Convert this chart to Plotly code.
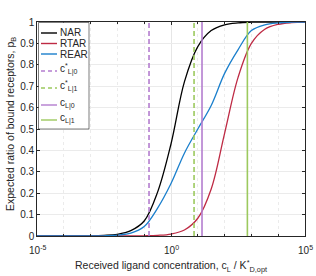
import math
import plotly.graph_objects as go

# log10 of received ligand concentration sample points
log_c = [-5, -4, -3, -2.5, -2, -1.5, -1, -0.5, 0, 0.5, 1, 1.5, 2, 2.5, 3, 3.5, 4, 4.5, 5]
nar = [0.0, 0.0001, 0.001, 0.003, 0.008, 0.025, 0.07, 0.205, 0.43, 0.72, 0.885, 0.96, 0.987, 0.996, 0.999, 1.0, 1.0, 1.0, 1.0]
rtar = [0.0, 0.0, 0.0, 0.0, 0.0001, 0.0003, 0.001, 0.003, 0.009, 0.028, 0.083, 0.22, 0.48, 0.74, 0.9, 0.966, 0.989, 0.997, 0.999]
rear = [0.0, 0.0, 0.0003, 0.001, 0.004, 0.013, 0.044, 0.13, 0.245, 0.387, 0.5, 0.61, 0.76, 0.87, 0.96, 0.987, 0.996, 0.999, 1.0]

curve_names = ["NAR", "RTAR", "REAR"]
curve_colors = ["#000000", "#BE2A44", "#1A7FCC"]

# threshold concentrations (log10)
vlines_log = [-0.82, 0.86, 1.157, 2.85]
vline_names = ["c<sup>*</sup><sub>L|0</sub>", "c<sup>*</sup><sub>L|1</sub>", "c<sub>L|0</sub>", "c<sub>L|1</sub>"]
vline_colors = ["#B47DCF", "#9CC95E", "#B47DCF", "#9CC95E"]
vline_dash = ["dash", "dash", "solid", "solid"]

x_ticks = [1e-5, 1, 1e5]
x_ticktext = ["10<sup>-5</sup>", "10<sup>0</sup>", "10<sup>5</sup>"]
y_ticks = [0, 0.1, 0.2, 0.3, 0.4, 0.5, 0.6, 0.7, 0.8, 0.9, 1]
y_ticktext = ["0", "0.1", "0.2", "0.3", "0.4", "0.5", "0.6", "0.7", "0.8", "0.9", "1"]

x_title = "Received ligand concentration, c<sub>L</sub> / K<sup>*</sup><sub>D,opt</sub>"
y_title = "Expected ratio of bound receptors, p<sub>B</sub>"

W, H = 316, 276
L, R, T, B = 37, 11, 22, 40
PW, PH = W - L - R, H - T - B


def px(xp):
    return (xp - L) / PW


def py(yp):
    return 1 - (yp - T) / PH


xs = [10 ** v for v in log_c]

fig = go.Figure()
for name, ys, col in zip(curve_names, [nar, rtar, rear], curve_colors):
    fig.add_trace(go.Scatter(x=xs, y=ys, mode="lines", name=name, showlegend=False,
                             line=dict(color=col, width=1.3, shape="spline", smoothing=1.0)))

for lv, nm, col, d in zip(vlines_log, vline_names, vline_colors, vline_dash):
    fig.add_trace(go.Scatter(x=[10 ** lv, 10 ** lv], y=[0, 1], mode="lines", name=nm, showlegend=False,
                             line=dict(color=col, width=1.6, dash="5px,3px" if d == "dash" else "solid")))

# manual legend (MATLAB style)
shapes = [dict(type="rect", xref="paper", yref="paper", x0=px(38.5), x1=px(89), y0=py(129), y1=py(22.5),
               line=dict(color="#262626", width=0.6), fillcolor="white", layer="above")]
annotations = []
entry_y = [33, 43.5, 54, 71, 88, 105, 120]
text_y = [33, 43.5, 54, 69, 86, 103, 118]
leg_names = curve_names + vline_names
leg_colors = curve_colors + vline_colors
leg_dash = ["solid"] * 3 + ["4px,3px" if d == "dash" else "solid" for d in vline_dash]
for ly, ty, nm, col, d in zip(entry_y, text_y, leg_names, leg_colors, leg_dash):
    shapes.append(dict(type="line", xref="paper", yref="paper", x0=px(41), x1=px(57), y0=py(ly), y1=py(ly),
                       line=dict(color=col, width=1.4, dash=d), layer="above"))
    annotations.append(dict(xref="paper", yref="paper", x=px(58), y=py(ty), xanchor="left", yanchor="middle",
                            text=nm, showarrow=False, font=dict(size=10, color="#262626")))

# x tick labels (annotations so the last one is not clipped)
for tv, tt in zip(x_ticks, x_ticktext):
    annotations.append(dict(xref="x", yref="paper", x=math.log10(tv), y=py(242),
                            xanchor="center", yanchor="top", text=tt, showarrow=False,
                            font=dict(size=10, color="#262626")))

annotations.append(dict(xref="paper", yref="paper", x=px(171), y=py(256), xanchor="center", yanchor="top",
                        text=x_title, showarrow=False, font=dict(size=10.5, color="#262626")))
annotations.append(dict(xref="paper", yref="paper", x=px(11), y=py(124), xanchor="center", yanchor="middle",
                        text=y_title, textangle=-90, showarrow=False, font=dict(size=10.5, color="#262626")))

decades = [10.0 ** k for k in range(-5, 6)]

fig.update_layout(
    width=W, height=H,
    margin=dict(l=L, r=R, t=T, b=B),
    paper_bgcolor="white", plot_bgcolor="white",
    font=dict(family="Liberation Sans, Arial, sans-serif", size=10, color="#262626"),
    showlegend=False,
    hovermode=False,
    shapes=shapes,
    annotations=annotations,
    xaxis=dict(type="log", range=[-5, 5], tickvals=x_ticks, showticklabels=False, automargin=False,
               showgrid=True, gridcolor="#E6E6E6", gridwidth=0.6,
               minor=dict(tickvals=decades, showgrid=True, gridcolor="#EBEBEB", griddash="dot",
                          ticks="inside", ticklen=2, tickcolor="#262626"),
               ticks="inside", ticklen=3, tickcolor="#262626",
               showline=True, linecolor="#262626", linewidth=0.6, mirror="ticks",
               zeroline=False),
    yaxis=dict(range=[0, 1], tickvals=y_ticks, ticktext=y_ticktext, automargin=False,
               showgrid=True, gridcolor="#EBEBEB", gridwidth=0.6,
               ticks="inside", ticklen=3, tickcolor="#262626",
               showline=True, linecolor="#262626", linewidth=0.6, mirror="ticks",
               zeroline=False,
               tickfont=dict(size=10, color="#262626")),
)

fig.write_html("out.html", config={"displayModeBar": False},
               post_script="document.body.style.margin='0px';document.body.style.padding='0px';")
